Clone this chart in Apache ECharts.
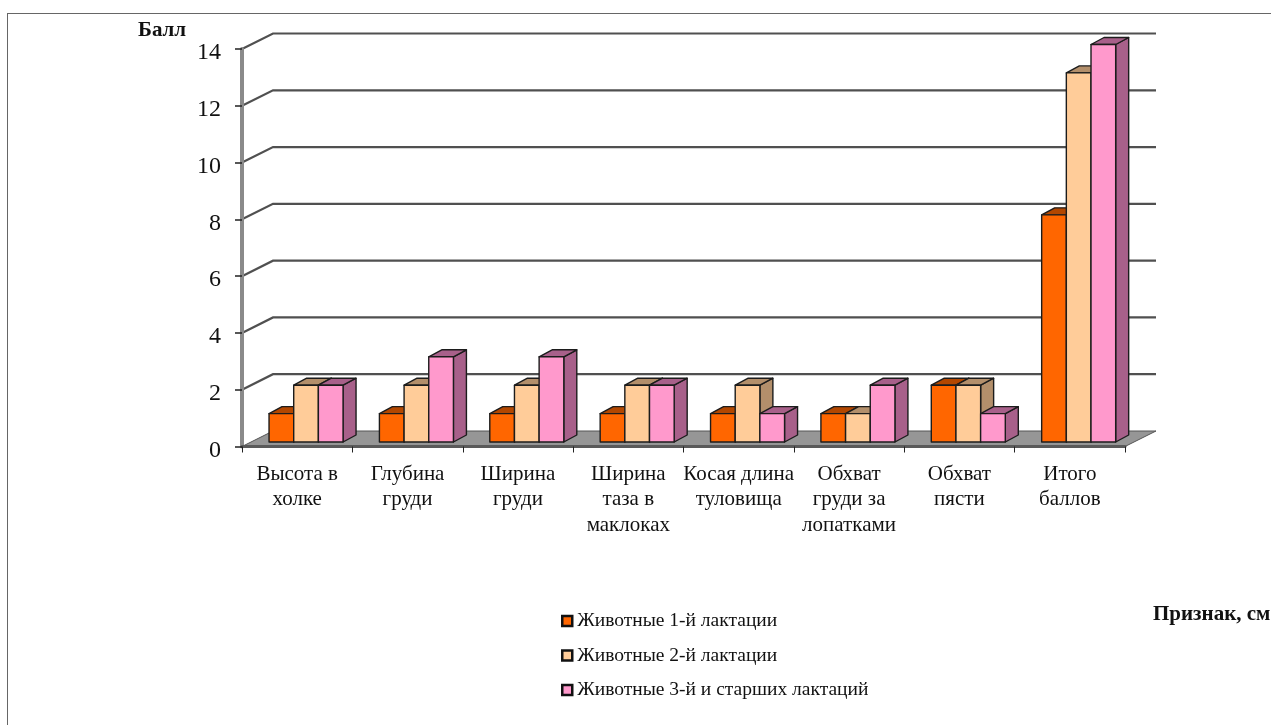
<!DOCTYPE html>
<html><head><meta charset="utf-8">
<style>html,body{margin:0;padding:0;background:#fff}#c{width:1271px;height:725px}</style>
<script src="https://cdn.jsdelivr.net/npm/echarts@6/dist/echarts.min.js"></script>
</head><body><div id="c"></div>
<script>
const categories = ['Высота в\nхолке','Глубина\nгруди','Ширина\nгруди','Ширина\nтаза в\nмаклоках','Косая длина\nтуловища','Обхват\nгруди за\nлопатками','Обхват\nпясти','Итого\nбаллов'];
const lact1 = [1,1,1,1,1,1,2,8];
const lact2 = [2,2,2,2,2,1,2,13];
const lact3 = [2,3,3,2,1,2,1,14];
const gridValues = [0,2,4,6,8,10,12,14];
const seriesNames = ['Животные 1-й лактации','Животные 2-й лактации','Животные 3-й и старших лактаций'];
const FONT = '"Liberation Serif","Times New Roman",serif';
const faces = [
  {front:'#FF6600', dark:'#B34700'},
  {front:'#FFCC99', dark:'#B38F6B'},
  {front:'#FF99CC', dark:'#A8608A'}
];
const EDGE = '#1c1c1c';
const WX = 31, WY = -15.5;   // wall depth
const BX = 13, BY = -7;    // bar depth

function barSeries(idx, values){
  const f = faces[idx];
  return {
    type:'custom', name:seriesNames[idx], z:3, clip:false,
    itemStyle:{color:f.front},
    encode:{x:0,y:1},
    data: values.map((v,i)=>[i,v]),
    renderItem(params, api){
      const band = api.size([1,0])[0];
      const w = band*0.2235;
      const base = api.coord([api.value(0),0]);
      const top = api.coord([api.value(0),api.value(1)]);
      const x0 = base[0] - band*0.255 + idx*w;
      const x1 = x0 + w;
      const yb = base[1] - 4.5, yt = top[1] - 4.5;
      const st = {stroke:EDGE, lineWidth:1.4, lineJoin:'round'};
      return {type:'group', children:[
        {type:'polygon', shape:{points:[[x1,yb],[x1+BX,yb+BY],[x1+BX,yt+BY],[x1,yt]]}, style:{fill:f.dark,...st}},
        {type:'polygon', shape:{points:[[x0,yt],[x1,yt],[x1+BX,yt+BY],[x0+BX,yt+BY]]}, style:{fill:f.dark,...st}},
        {type:'rect', shape:{x:x0,y:yt,width:w,height:yb-yt}, style:{fill:f.front,...st}}
      ]};
    }
  };
}

const wallSeries = {
  type:'custom', name:'wall', z:1, clip:false, silent:true, legendHoverLink:false,
  encode:{x:0,y:1},
  data: gridValues.map(v=>[0,v]),
  renderItem(params, api){
    const band = api.size([1,0])[0];
    const p = api.coord([0,api.value(1)]);
    const xl = p[0]-band/2, xr = api.coord([categories.length-1,0])[0]+band/2, y = p[1];
    if(api.value(1)===0){
      return {type:'polygon', shape:{points:[[xl,y],[xr,y],[xr+WX,y+WY],[xl+WX,y+WY]]},
        style:{fill:'#969696', stroke:'#555', lineWidth:1}};
    }
    return {type:'polyline', shape:{points:[[xl,y],[xl+WX,y+WY],[xr+WX,y+WY]]},
      style:{fill:null, stroke:'#505050', lineWidth:2.2}};
  }
};

const chart = echarts.init(document.getElementById('c'),null,{renderer:'canvas'});
chart.setOption({
  animation:false,
  backgroundColor:'#fff',
  grid:{left:242,right:146,top:49,height:397.5,containLabel:false},
  legend:{
    orient:'vertical', left:556, top:606, itemWidth:10, itemHeight:10, itemGap:14.5,
    icon:'rect', selectedMode:false,
    data:seriesNames,
    itemStyle:{borderColor:'#111',borderWidth:2.5},
    textStyle:{fontFamily:FONT,fontSize:19.5,color:'#111'}
  },
  xAxis:{type:'category',data:categories,z:4,
    axisLine:{lineStyle:{color:'#5a5a5a',width:3}},
    axisTick:{show:true,length:6,lineStyle:{color:'#222',width:1}},
    axisLabel:{interval:0,margin:15,fontFamily:FONT,fontSize:21,lineHeight:25.5,color:'#111'},
    splitLine:{show:false}},
  yAxis:{type:'value',min:0,max:14,interval:2,z:4,
    axisLine:{show:true,lineStyle:{color:'#8a8a8a',width:4}},
    axisTick:{show:true,length:7,lineStyle:{color:'#222',width:1.5}},
    axisLabel:{margin:21,color:'#111',formatter:'{v|{value}}',
      rich:{v:{fontFamily:FONT,fontSize:24,color:'#111',lineHeight:32,verticalAlign:'bottom'}}},
    splitLine:{show:false}},
  graphic:[
    {type:'line',silent:true,shape:{x1:7,y1:13.5,x2:1271,y2:13.5},style:{stroke:'#666',lineWidth:1}},
    {type:'line',silent:true,shape:{x1:7.5,y1:13,x2:7.5,y2:725},style:{stroke:'#666',lineWidth:1}},
    {type:'text',left:138,top:20,style:{text:'Балл',font:'bold 21px '+FONT,fill:'#111'}},
    {type:'text',left:1153,top:604,style:{text:'Признак, см',font:'bold 21px '+FONT,fill:'#111'}}
  ],
  series:[wallSeries, barSeries(0,lact1), barSeries(1,lact2), barSeries(2,lact3)]
});
</script></body></html>
